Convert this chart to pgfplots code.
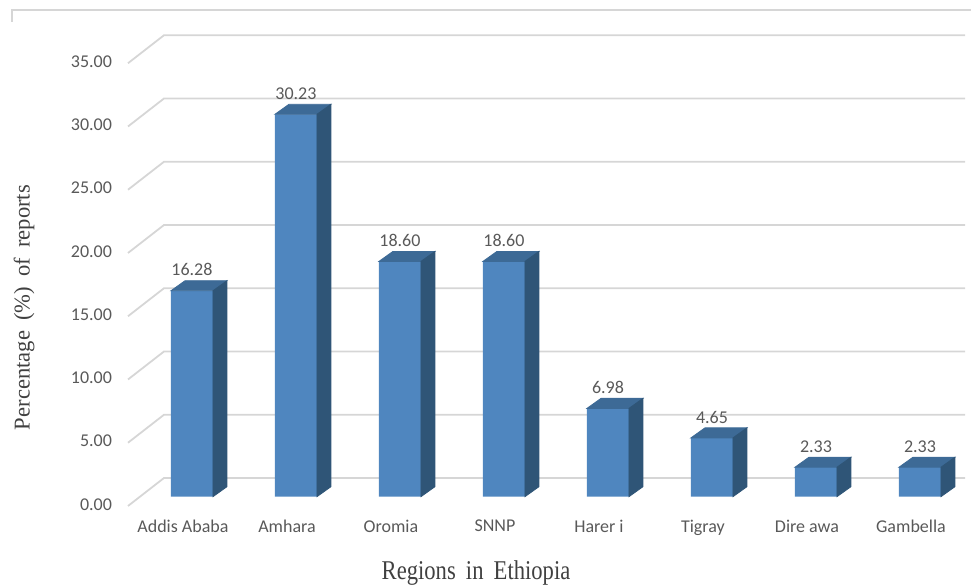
\documentclass[border=0pt]{standalone}
\usepackage{fontspec}
\setmainfont{Carlito}
\newfontfamily\titlefont{Liberation Serif}
\usepackage{pgfplots}
\pgfplotsset{compat=1.18}
\definecolor{frontc}{HTML}{4F86BF}
\definecolor{topc}{HTML}{3D6A96}
\definecolor{sidec}{HTML}{2F5577}
\definecolor{gridc}{HTML}{D6D6D6}
\definecolor{labc}{HTML}{595959}
\definecolor{titc}{HTML}{404040}
\pgfdeclareplotmark{emptymk}{}
\begin{document}
\begin{tikzpicture}
\begin{axis}[
  x=52pt, y=6.325pt,
  xmin=-0.615, xmax=7.087,
  ymin=-0.735, ymax=35,
  clip=false,
  axis line style={draw=none},
  tick style={draw=none},
  major tick length=0pt,
  xtick={0,...,7},
  xticklabels={Addis Ababa, Amhara, Oromia, SNNP, Harer i, Tigray, Dire awa, Gambella},
  xticklabel style={font=\fontsize{9}{10}\selectfont, text=labc, xshift=-4.5pt, yshift=-3.5pt},
  ytick={0,5,...,35},
  yticklabel style={font=\fontsize{9}{10}\selectfont, text=labc, xshift=-4.5pt, yshift=-3.8pt,
    /pgf/number format/.cd, fixed, fixed zerofill, precision=2, assume math mode=true},
  xlabel={\titlefont\scalebox{1}[1.2]{Regions\hspace{0.2em} in\hspace{0.2em} Ethiopia}},
  xlabel style={at={(axis description cs:0.4345,-0.163)}, anchor=base, text=titc, font=\fontsize{11.3}{12}\selectfont},
  ylabel={\titlefont Percentage\hspace{0.2em} (\%)\hspace{0.2em} of\hspace{0.2em} reports},
  ylabel style={at={(axis description cs:-0.1298,0.439)}, anchor=center, text=titc, font=\fontsize{11.3}{12}\selectfont},
]
% perspective gridlines (side wall + back wall)
\pgfplotsinvokeforeach{0,5,...,35}{
  \draw[gridc, line width=0.9pt] ([yshift=-4.65pt]axis cs:-0.615,#1) -- ++(18pt,14pt)
    -- ([xshift=18pt,yshift=9.35pt]axis cs:7.087,#1);
}
% top and side faces of the 3D bars
\addplot[only marks, mark=emptymk, scatter,
  visualization depends on={rawy \as \barval},
  scatter/@pre marker code/.code={%
    \pgfmathsetmacro\hb{-\barval*6.325}%
    \pgfmathsetmacro\hc{-\barval*6.325+5}%
    \fill[topc] (-10.5pt,0pt) -- (10.5pt,0pt) -- (17.5pt,5pt) -- (-3.5pt,5pt) -- cycle;
    \fill[sidec] (10.5pt,0pt) -- (17.5pt,5pt) -- (17.5pt,\hc pt) -- (10.5pt,\hb pt) -- cycle;
  },
  scatter/@post marker code/.code={}
] coordinates {(0,16.28) (1,30.23) (2,18.60) (3,18.60) (4,6.98) (5,4.65) (6,2.33) (7,2.33)};
% front faces
\addplot[ybar, bar width=21pt, bar shift=0pt, fill=frontc, draw=none,
  nodes near coords,
  every node near coord/.append style={font=\fontsize{9}{10}\selectfont, text=labc, anchor=south, yshift=3.8pt,
    /pgf/number format/.cd, fixed, fixed zerofill, precision=2, assume math mode=true}
] coordinates {(0,16.28) (1,30.23) (2,18.60) (3,18.60) (4,6.98) (5,4.65) (6,2.33) (7,2.33)};
\end{axis}
\draw[gridc, line width=0.8pt] (-58pt,242pt) -- (-58pt,248pt) -- (421.5pt,248pt);
\pgfresetboundingbox
\path (-64pt,-41pt) rectangle (421.5pt,253pt);
\end{tikzpicture}
\end{document}
